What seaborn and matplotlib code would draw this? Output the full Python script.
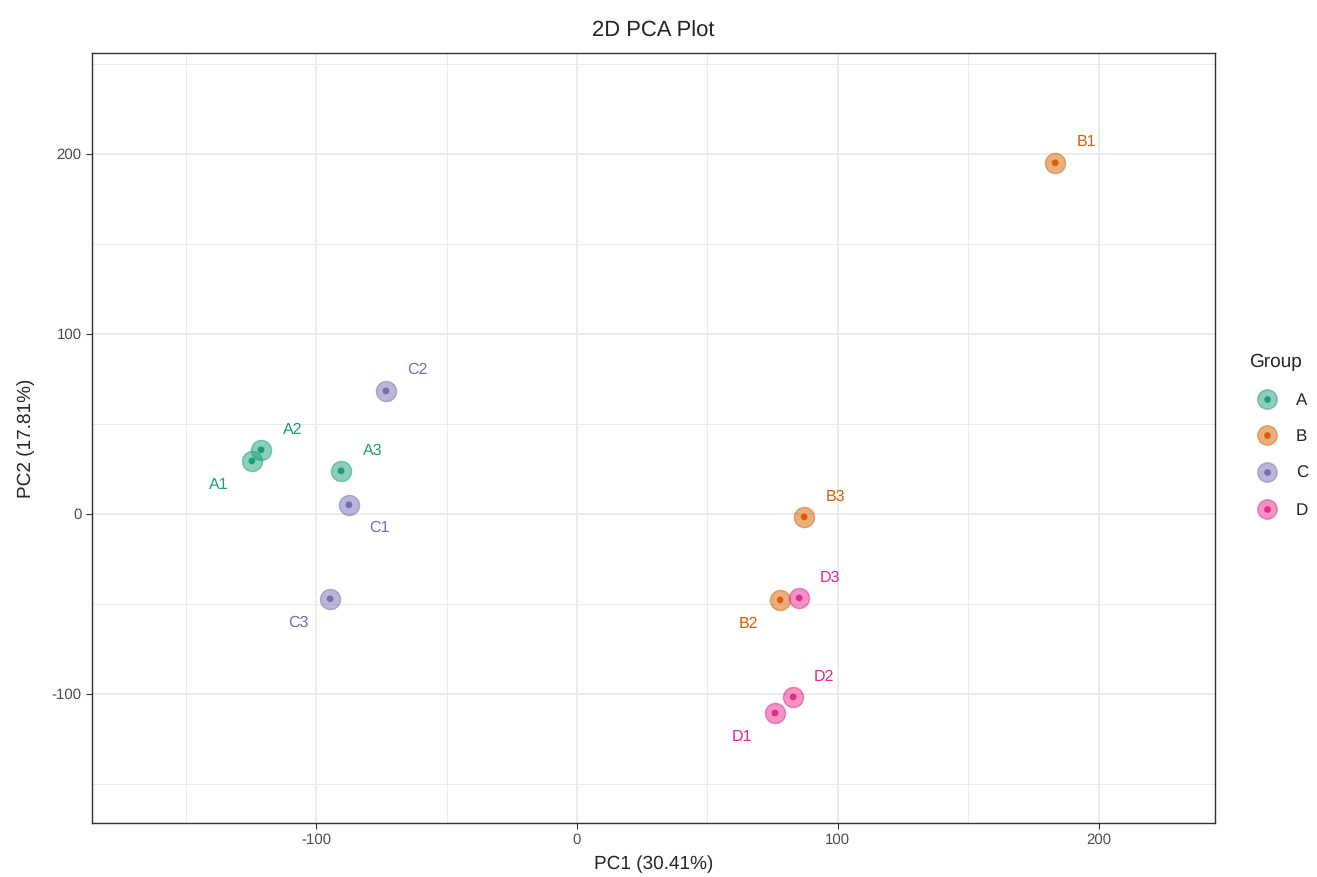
import pandas as pd
import seaborn as sns
import matplotlib.pyplot as plt
from matplotlib.lines import Line2D

# sample scores
samples = ['A1', 'A2', 'A3', 'B1', 'B2', 'B3', 'C1', 'C2', 'C3', 'D1', 'D2', 'D3']
groups = ['A', 'A', 'A', 'B', 'B', 'B', 'C', 'C', 'C', 'D', 'D', 'D']
pc1 = [-124.7, -121.2, -90.5, 183.4, 77.9, 87.1, -87.5, -73.3, -94.7, 75.9, 82.9, 85.2]
pc2 = [29.4, 35.6, 23.9, 195.0, -47.8, -1.7, 5.0, 68.3, -47.2, -110.6, -101.7, -46.7]
group_order = ['A', 'B', 'C', 'D']
colors = ['#1B9E77', '#D95F02', '#7570B3', '#E7298A']

df = pd.DataFrame({'sample': samples, 'group': groups, 'PC1': pc1, 'PC2': pc2})
pal = dict(zip(group_order, colors))

# label offsets (pixels), like ggrepel put them
offsets = {'A1': (-33, -24), 'A2': (32, 20), 'A3': (32, 20), 'B1': (31, 21),
           'B2': (-32, -24), 'B3': (31, 20), 'C1': (31, -23), 'C2': (32, 21),
           'C3': (-32, -24), 'D1': (-33, -24), 'D2': (31, 20), 'D3': (31, 20)}

sns.set_style('white')
plt.rcParams['font.family'] = ['Liberation Sans', 'DejaVu Sans']
plt.rcParams['axes.unicode_minus'] = False
plt.rcParams['text.hinting_factor'] = 1
plt.rcParams['text.hinting'] = 'no_hinting'

fig = plt.figure(figsize=(13.17, 8.77), dpi=100)
ax = fig.add_axes([0.0699, 0.0616, 0.8527, 0.878])

# big translucent circles
for g in group_order:
    sub = df[df['group'] == g]
    c = pal[g]
    ax.scatter(sub['PC1'], sub['PC2'], s=210, color=c, alpha=0.5,
               edgecolor=c, linewidth=1.0, zorder=3)
sns.scatterplot(data=df, x='PC1', y='PC2', hue='group', palette=pal,
                s=24, linewidth=0, legend=False, ax=ax, zorder=4)

for _, r in df.iterrows():
    ax.annotate(r['sample'], (r['PC1'], r['PC2']), xytext=offsets[r['sample']],
                textcoords='offset pixels', ha='center', va='center',
                fontsize=11.5, color=pal[r['group']])

ax.set_xlim(-186, 244.7)
ax.set_ylim(-171.7, 256)
ax.set_xticks([-100, 0, 100, 200])
ax.set_yticks([-100, 0, 100, 200])
ax.set_xticks([-150, -50, 50, 150], minor=True)
ax.set_yticks([-150, -50, 50, 150, 250], minor=True)
ax.grid(which='major', color='#EBEBEB', linewidth=1.3)
ax.grid(which='minor', color='#EBEBEB', linewidth=0.7)
ax.set_axisbelow(True)
ax.tick_params(which='major', length=4, color='#333333', labelsize=11,
               labelcolor='#4D4D4D', bottom=True, left=True)
ax.tick_params(which='minor', length=0)
for sp in ax.spines.values():
    sp.set_color('#333333')
    sp.set_linewidth(1.0)

ax.set_xlabel('PC1 (30.41%)', fontsize=14, labelpad=6)
ax.set_ylabel('PC2 (17.81%)', fontsize=14, labelpad=12)
ax.set_title('2D PCA Plot', fontsize=16, pad=12)

handles = []
for g in group_order:
    c = pal[g]
    big = Line2D([], [], marker='o', linestyle='', markersize=14, color=c,
                 alpha=0.5, markeredgewidth=1.0)
    dot = Line2D([], [], marker='o', linestyle='', markersize=4.8, color=c,
                 markeredgewidth=0)
    handles.append((big, dot))
fig.legend(handles, group_order, title='Group', loc='center left',
           bbox_to_anchor=(0.937, 0.503), frameon=False, fontsize=12,
           title_fontsize=14, labelspacing=1.25, handletextpad=0.7,
           handlelength=2.1, alignment='left')

fig.savefig('out.png', dpi=100)
